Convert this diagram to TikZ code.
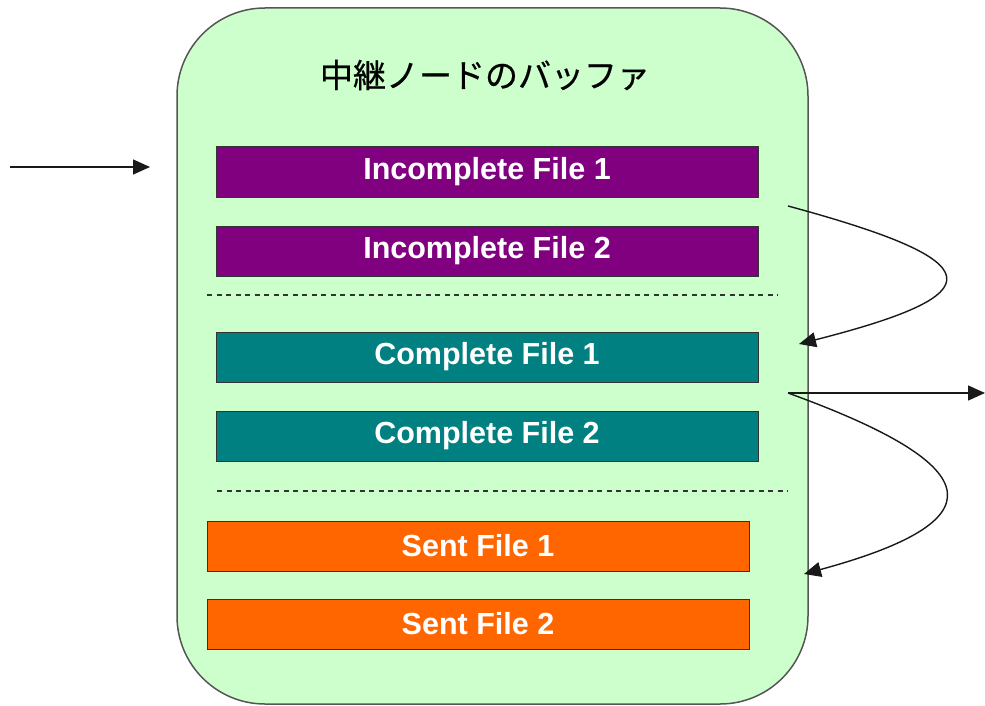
\documentclass[tikz,border=0pt]{standalone}
\usepackage{fontspec}
\setmainfont{Liberation Sans}
\newfontfamily\cjkfont[FakeBold=0.6]{Noto Sans CJK JP}
\usetikzlibrary{arrows.meta}
\definecolor{bufgreen}{HTML}{CCFFCC}
\definecolor{incpurple}{HTML}{800080}
\definecolor{compteal}{HTML}{008080}
\definecolor{sentorange}{HTML}{FF6600}
\definecolor{edgegray}{HTML}{555555}
\tikzset{
  filebox/.style={draw=black!80, line width=1pt, minimum width=542pt, minimum height=50pt,
    inner sep=0pt, text=white, font=\fontsize{30.5}{35}\selectfont\bfseries},
  sep/.style={dashed, dash pattern=on 5pt off 4.5pt, line width=1.2pt, draw=black!80},
  flow/.style={line width=1.4pt, draw=black!90, -{Triangle[length=17pt,width=15pt]}},
}
\begin{document}
\begin{tikzpicture}[x=1pt,y=-1pt]
\useasboundingbox (0,0) rectangle (985,706);
\draw[fill=bufgreen, draw=edgegray, line width=1.5pt, rounded corners=88pt] (177,8) rectangle (808,704);
\node (title) at (485,75) {\cjkfont\fontsize{33}{40}\selectfont 中継ノードのバッファ};
\node[filebox, fill=incpurple] (inc1) at (487,172) {Incomplete File 1};
\node[filebox, fill=incpurple] (inc2) at (487,251) {Incomplete File 2};
\draw[sep] (207,295) -- (778,295);
\node[filebox, fill=compteal] (comp1) at (487,357) {Complete File 1};
\node[filebox, fill=compteal] (comp2) at (487,436) {Complete File 2};
\draw[sep] (217,491) -- (788,491);
\node[filebox, fill=sentorange] (sent1) at (478,546) {Sent File 1};
\node[filebox, fill=sentorange] (sent2) at (478,624) {Sent File 2};
\coordinate (inStart) at (10,167);
\coordinate (inEnd) at (150,167);
\coordinate (aStart) at (788,206);
\coordinate (aEnd) at (799,344);
\coordinate (bStart) at (788,393);
\coordinate (bOut) at (985,393);
\coordinate (bEnd) at (804,574);
\draw[flow] (inStart) -- (inEnd);
\draw[flow] (aStart) .. controls (995,262) and (995,294) .. (aEnd);
\draw[flow] (bStart) -- (bOut);
\draw[flow] (bStart) .. controls (995,468) and (995,522) .. (bEnd);
\end{tikzpicture}
\end{document}
